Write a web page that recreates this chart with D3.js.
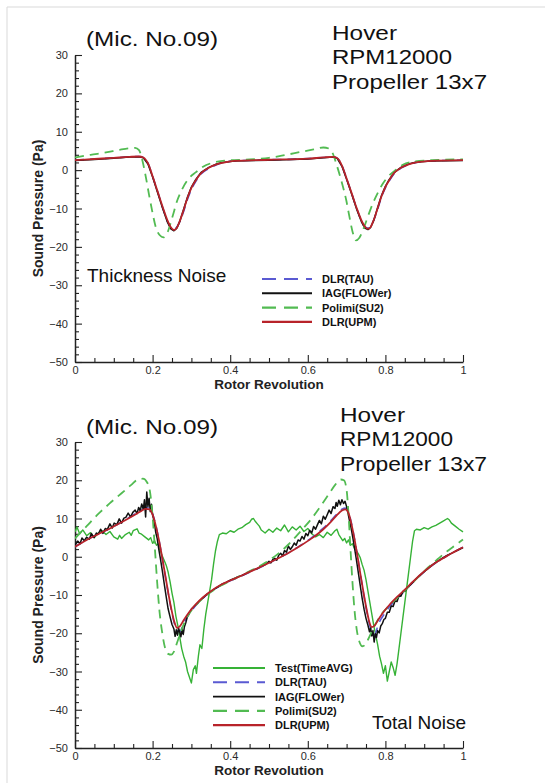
<!DOCTYPE html>
<html>
<head>
<meta charset="utf-8">
<script src="https://cdn.jsdelivr.net/npm/d3@7"></script>
<style>
  body { margin: 0; background: #fff; }
  svg { display: block; }
  text { font-family: "Liberation Sans", Arial, Helvetica, sans-serif; }
</style>
</head>
<body>
<svg id="fig" width="545" height="783"></svg>
<script>
// ---- axis ticks and labels ----
const xMajorTicks = [0, 0.2, 0.4, 0.6, 0.8, 1];
const xTickLabels = ["0", "0.2", "0.4", "0.6", "0.8", "1"];
const xMinorTicks = [0.05, 0.1, 0.15, 0.25, 0.3, 0.35, 0.45, 0.5, 0.55, 0.65, 0.7, 0.75, 0.85, 0.9, 0.95];
const yMajorTicks = [30, 20, 10, 0, -10, -20, -30, -40, -50];
const yMinorTicks = [28, 26, 24, 22, 18, 16, 14, 12, 8, 6, 4, 2, -2, -4, -6, -8, -12, -14, -16, -18,
  -22, -24, -26, -28, -32, -34, -36, -38, -42, -44, -46, -48];
const xTitle = "Rotor Revolution";
const yTitle = "Sound Pressure (Pa)";
const headerLeft = "(Mic. No.09)";
const headerRight = ["Hover", "RPM12000", "Propeller 13x7"];

// ---- thickness noise (upper panel): [revolution, pressure Pa] ----
const thickTAU = [[0,2.6],[0.05,2.9],[0.1,3.2],[0.14,3.45],[0.165,3.55],[0.176,3.3],[0.188,1.8],[0.2,-1.6],[0.213,-5.6],[0.226,-9.8],[0.238,-13.3],[0.247,-15.0],[0.255,-15.4],[0.262,-14.9],[0.27,-13.4],[0.28,-10.8],[0.29,-7.6],[0.3,-5.0],[0.311,-3.0],[0.325,-1.0],[0.345,0.4],[0.365,1.4],[0.38,1.9],[0.41,2.4],[0.5,2.7],[0.6,3.0],[0.64,3.3],[0.665,3.45],[0.676,3.1],[0.688,1.2],[0.7,-2.2],[0.713,-6.0],[0.726,-10.0],[0.738,-13.2],[0.747,-14.8],[0.755,-15.1],[0.762,-14.6],[0.77,-13.0],[0.78,-10.2],[0.79,-7.0],[0.8,-4.6],[0.81,-2.8],[0.822,-1.0],[0.84,0.5],[0.86,1.5],[0.88,2.0],[0.92,2.4],[1,2.6]];
const thickIAG = [[0,2.5],[0.05,2.8],[0.1,3.1],[0.14,3.4],[0.165,3.5],[0.176,3.2],[0.188,1.6],[0.2,-1.8],[0.213,-5.9],[0.226,-10.0],[0.238,-13.5],[0.247,-15.3],[0.255,-15.8],[0.262,-15.2],[0.27,-13.4],[0.28,-10.2],[0.29,-7.0],[0.3,-4.4],[0.311,-2.5],[0.325,-0.6],[0.345,0.7],[0.365,1.6],[0.38,2.0],[0.41,2.4],[0.5,2.6],[0.6,2.9],[0.64,3.2],[0.665,3.4],[0.676,3.0],[0.688,1.0],[0.7,-2.4],[0.713,-6.2],[0.726,-10.2],[0.738,-13.4],[0.747,-15.1],[0.755,-15.5],[0.762,-14.9],[0.77,-13.1],[0.78,-9.8],[0.79,-6.6],[0.8,-4.2],[0.81,-2.4],[0.822,-0.7],[0.84,0.7],[0.86,1.6],[0.88,2.1],[0.92,2.4],[1,2.5]];
const thickSU2 = [[0,3.3],[0.04,4.0],[0.08,4.6],[0.115,5.3],[0.14,5.7],[0.155,5.8],[0.165,5.2],[0.174,2.4],[0.182,-1.5],[0.191,-6.5],[0.2,-11.2],[0.208,-14.8],[0.218,-16.9],[0.228,-17.5],[0.238,-16.3],[0.251,-12.2],[0.264,-7.8],[0.277,-4.8],[0.295,-2.0],[0.311,-0.6],[0.33,0.9],[0.354,1.9],[0.38,2.4],[0.43,2.7],[0.5,3.2],[0.54,3.9],[0.58,4.7],[0.615,5.4],[0.64,5.9],[0.655,5.6],[0.665,4.2],[0.673,1.8],[0.686,-2.6],[0.699,-7.8],[0.707,-12.0],[0.716,-16.3],[0.724,-18.3],[0.733,-17.6],[0.746,-14.6],[0.758,-11.2],[0.768,-8.6],[0.781,-5.8],[0.794,-3.4],[0.81,-1.4],[0.825,-0.1],[0.845,1.4],[0.87,2.2],[0.92,2.6],[1,2.8]];
const thickUPM = [[0,2.6],[0.05,2.9],[0.1,3.2],[0.14,3.45],[0.165,3.55],[0.176,3.3],[0.188,1.8],[0.2,-1.6],[0.213,-5.6],[0.226,-9.6],[0.238,-13.0],[0.247,-14.9],[0.255,-15.6],[0.262,-15.1],[0.27,-13.3],[0.28,-10.4],[0.29,-7.2],[0.3,-4.6],[0.311,-2.7],[0.325,-0.8],[0.345,0.6],[0.365,1.5],[0.38,1.9],[0.41,2.4],[0.5,2.7],[0.6,3.0],[0.64,3.3],[0.665,3.45],[0.676,3.1],[0.688,1.2],[0.7,-2.2],[0.713,-6.0],[0.726,-9.9],[0.738,-13.0],[0.747,-14.7],[0.755,-15.3],[0.762,-14.8],[0.77,-13.0],[0.78,-9.9],[0.79,-6.8],[0.8,-4.4],[0.81,-2.6],[0.822,-0.8],[0.84,0.6],[0.86,1.5],[0.88,2.0],[0.92,2.4],[1,2.6]];

// ---- total noise (lower panel): [revolution, pressure Pa] ----
const totalTest = [[0,6.5],[0.005,7.8],[0.012,6.0],[0.02,7.0],[0.03,5.5],[0.04,6.3],[0.05,5.0],[0.06,6.2],[0.07,6.8],[0.08,5.8],[0.09,6.6],[0.1,5.2],[0.11,4.6],[0.115,5.6],[0.12,4.8],[0.13,5.8],[0.14,6.4],[0.145,5.6],[0.15,6.8],[0.16,7.3],[0.165,6.2],[0.17,6.0],[0.18,5.2],[0.19,4.4],[0.195,5.0],[0.2,3.5],[0.205,4.2],[0.21,3.0],[0.215,3.4],[0.22,1.5],[0.225,0.2],[0.23,-1.0],[0.235,-2.2],[0.24,-4.0],[0.245,-6.5],[0.25,-9.5],[0.255,-12.0],[0.26,-15.5],[0.265,-18.0],[0.27,-21.0],[0.275,-24.0],[0.28,-26.0],[0.285,-27.5],[0.29,-30.0],[0.295,-31.5],[0.3,-33.0],[0.305,-29.5],[0.31,-28.5],[0.313,-30.5],[0.318,-26.0],[0.322,-23.0],[0.327,-24.0],[0.332,-19.0],[0.337,-15.0],[0.342,-12.0],[0.347,-9.0],[0.352,-6.0],[0.357,-2.0],[0.362,1.5],[0.367,4.0],[0.372,5.8],[0.38,6.2],[0.39,6.0],[0.4,6.8],[0.41,6.4],[0.42,7.2],[0.43,7.6],[0.44,8.4],[0.45,9.0],[0.455,9.8],[0.46,10.0],[0.465,9.2],[0.47,8.6],[0.475,8.0],[0.48,7.0],[0.49,6.2],[0.5,7.2],[0.51,6.4],[0.52,7.5],[0.53,6.8],[0.54,8.3],[0.55,6.5],[0.56,7.8],[0.57,7.0],[0.58,8.0],[0.59,6.6],[0.6,7.4],[0.61,6.0],[0.62,5.2],[0.63,5.8],[0.64,5.0],[0.65,6.4],[0.66,5.6],[0.67,6.8],[0.675,7.2],[0.68,5.8],[0.69,4.2],[0.695,4.8],[0.7,3.6],[0.705,4.4],[0.71,3.0],[0.715,3.4],[0.72,2.2],[0.725,1.6],[0.73,0.8],[0.735,-0.2],[0.74,-2.0],[0.745,-3.5],[0.75,-6.0],[0.755,-9.0],[0.76,-12.0],[0.765,-15.0],[0.77,-18.0],[0.775,-20.5],[0.78,-23.0],[0.785,-26.0],[0.79,-28.0],[0.795,-30.5],[0.8,-28.5],[0.805,-32.5],[0.81,-30.0],[0.815,-27.5],[0.82,-29.0],[0.825,-31.0],[0.83,-28.0],[0.835,-24.0],[0.84,-20.0],[0.845,-16.0],[0.85,-12.0],[0.855,-8.0],[0.86,-4.0],[0.865,0.0],[0.87,4.0],[0.875,6.8],[0.88,7.2],[0.89,7.0],[0.9,7.6],[0.91,7.2],[0.92,7.8],[0.93,8.2],[0.94,8.8],[0.95,9.4],[0.96,10.0],[0.965,9.6],[0.97,8.8],[0.98,8.0],[0.99,7.2],[1,6.5]];
const totalTAU = [[0,2.6],[0.03,4.4],[0.06,5.9],[0.09,7.4],[0.12,9.1],[0.15,10.9],[0.17,12.1],[0.182,12.8],[0.192,12.7],[0.2,11.2],[0.208,8.4],[0.216,4.6],[0.224,0.2],[0.232,-4.6],[0.24,-9.4],[0.248,-13.8],[0.256,-17.4],[0.263,-19.3],[0.27,-19.6],[0.28,-17.4],[0.295,-14.9],[0.31,-12.9],[0.33,-10.8],[0.35,-9.2],[0.375,-7.5],[0.4,-6.3],[0.43,-5.0],[0.46,-3.6],[0.49,-2.2],[0.52,-0.6],[0.55,1.0],[0.58,2.9],[0.61,5.0],[0.64,7.5],[0.66,9.5],[0.675,11.2],[0.688,12.4],[0.697,12.7],[0.705,11.6],[0.712,9.0],[0.72,4.9],[0.728,0.2],[0.736,-4.9],[0.744,-9.8],[0.752,-14.3],[0.759,-17.7],[0.765,-19.6],[0.772,-20.4],[0.782,-17.6],[0.797,-15.0],[0.812,-12.9],[0.83,-10.9],[0.85,-8.9],[0.87,-6.8],[0.89,-4.8],[0.91,-3.1],[0.935,-1.2],[0.96,0.3],[0.98,1.4],[1,2.5]];
const totalIAG = [[0,3.0],[0.007,4.1],[0.013,3.4],[0.018,4.9],[0.024,4.2],[0.03,5.1],[0.037,4.6],[0.042,6.1],[0.049,5.0],[0.055,6.2],[0.06,5.9],[0.066,7.2],[0.072,6.1],[0.078,7.4],[0.083,7.1],[0.09,8.6],[0.096,7.5],[0.101,8.8],[0.108,8.4],[0.114,9.9],[0.12,8.8],[0.126,10.1],[0.131,10.3],[0.137,11.4],[0.143,10.4],[0.149,11.6],[0.155,12.2],[0.16,11.3],[0.164,12.9],[0.168,12.0],[0.172,13.8],[0.176,12.4],[0.179,14.9],[0.182,10.4],[0.185,16.9],[0.188,13.1],[0.191,15.3],[0.194,11.8],[0.197,13.7],[0.2,10.9],[0.204,9.3],[0.208,6.4],[0.212,4.7],[0.216,1.9],[0.22,-0.4],[0.225,-3.6],[0.23,-7.1],[0.235,-10.4],[0.24,-13.6],[0.245,-15.7],[0.25,-17.7],[0.255,-18.9],[0.258,-20.8],[0.261,-19.1],[0.264,-20.5],[0.267,-18.7],[0.27,-19.7],[0.273,-20.9],[0.276,-18.9],[0.279,-20.3],[0.282,-18.3],[0.286,-17.1],[0.29,-15.5],[0.295,-14.7],[0.3,-13.7],[0.31,-12.7],[0.32,-11.7],[0.33,-10.8],[0.34,-9.8],[0.35,-9.1],[0.36,-8.4],[0.37,-7.8],[0.38,-7.1],[0.39,-6.7],[0.4,-6.1],[0.41,-5.7],[0.42,-5.2],[0.43,-4.9],[0.44,-4.4],[0.45,-3.9],[0.46,-3.4],[0.47,-3.1],[0.48,-2.4],[0.49,-2.1],[0.5,-1.2],[0.505,-1.6],[0.51,-0.7],[0.515,-0.4],[0.52,-0.9],[0.525,0.4],[0.53,0.9],[0.535,0.2],[0.54,1.6],[0.545,1.2],[0.55,2.8],[0.555,1.9],[0.56,2.6],[0.565,3.6],[0.57,3.0],[0.575,4.4],[0.58,4.1],[0.585,5.3],[0.59,4.6],[0.595,6.1],[0.6,5.5],[0.605,6.9],[0.61,6.2],[0.615,7.9],[0.62,7.2],[0.625,8.4],[0.63,9.5],[0.635,8.6],[0.64,10.6],[0.645,9.8],[0.65,11.0],[0.655,12.2],[0.66,11.3],[0.665,13.1],[0.67,12.6],[0.673,14.2],[0.676,13.2],[0.68,14.8],[0.684,13.6],[0.688,14.9],[0.692,13.9],[0.696,14.5],[0.7,13.1],[0.704,11.2],[0.708,9.1],[0.712,7.3],[0.716,5.0],[0.72,2.6],[0.725,-0.6],[0.73,-4.0],[0.735,-7.4],[0.74,-10.8],[0.745,-13.7],[0.75,-16.1],[0.755,-17.9],[0.759,-19.6],[0.762,-18.6],[0.765,-20.7],[0.768,-19.3],[0.771,-22.3],[0.774,-20.1],[0.777,-21.1],[0.78,-19.3],[0.784,-19.9],[0.788,-18.1],[0.792,-17.5],[0.796,-16.4],[0.8,-16.1],[0.805,-14.5],[0.81,-14.5],[0.815,-12.9],[0.82,-13.0],[0.825,-11.5],[0.83,-11.7],[0.835,-10.2],[0.84,-10.3],[0.845,-9.1],[0.85,-9.0],[0.86,-7.8],[0.87,-6.8],[0.88,-5.7],[0.89,-4.8],[0.9,-3.9],[0.91,-3.1],[0.92,-2.2],[0.93,-1.5],[0.94,-0.8],[0.95,-0.2],[0.96,0.4],[0.97,0.9],[0.98,1.4],[0.99,1.9],[1,2.4]];
const totalSU2 = [[0,4.8],[0.03,8.0],[0.06,11.2],[0.09,14.0],[0.12,16.6],[0.145,18.8],[0.162,20.2],[0.175,20.4],[0.186,19.4],[0.194,16.5],[0.2,10.5],[0.206,2.0],[0.212,-7.0],[0.218,-14.5],[0.225,-20.0],[0.232,-23.8],[0.24,-25.4],[0.248,-25.6],[0.255,-24.8],[0.263,-22.5],[0.272,-19.8],[0.283,-17.0],[0.295,-14.8],[0.31,-12.8],[0.33,-10.8],[0.35,-9.2],[0.375,-7.6],[0.4,-6.3],[0.43,-4.8],[0.46,-3.3],[0.49,-1.6],[0.52,0.5],[0.55,3.2],[0.58,6.5],[0.61,10.0],[0.635,13.5],[0.655,16.5],[0.672,19.0],[0.685,20.2],[0.693,20.0],[0.7,17.5],[0.705,11.0],[0.71,2.0],[0.715,-6.5],[0.72,-13.5],[0.726,-19.0],[0.733,-22.2],[0.741,-23.4],[0.748,-23.0],[0.756,-21.5],[0.765,-19.5],[0.775,-17.5],[0.79,-15.0],[0.81,-12.8],[0.83,-10.8],[0.85,-8.8],[0.87,-6.8],[0.89,-4.8],[0.91,-2.8],[0.935,-0.6],[0.96,1.5],[0.98,3.0],[1,4.5]];
const totalUPM = [[0,2.6],[0.03,4.4],[0.06,5.9],[0.09,7.4],[0.12,9.0],[0.15,10.7],[0.17,11.9],[0.182,12.5],[0.192,12.4],[0.2,11.0],[0.208,8.2],[0.216,4.5],[0.224,0.2],[0.232,-4.5],[0.24,-9.2],[0.248,-13.5],[0.256,-17.0],[0.263,-18.6],[0.27,-18.2],[0.28,-16.6],[0.295,-14.4],[0.31,-12.6],[0.33,-10.6],[0.35,-9.0],[0.375,-7.4],[0.4,-6.2],[0.43,-4.9],[0.46,-3.5],[0.49,-2.1],[0.52,-0.6],[0.55,1.0],[0.58,2.8],[0.61,4.8],[0.64,7.2],[0.66,9.2],[0.675,10.9],[0.688,12.1],[0.697,12.4],[0.705,11.4],[0.712,8.8],[0.72,4.8],[0.728,0.2],[0.736,-4.8],[0.744,-9.6],[0.752,-14.0],[0.759,-17.2],[0.765,-18.4],[0.772,-18.0],[0.782,-16.4],[0.797,-14.2],[0.812,-12.4],[0.83,-10.5],[0.85,-8.6],[0.87,-6.6],[0.89,-4.7],[0.91,-3.0],[0.935,-1.2],[0.96,0.3],[0.98,1.4],[1,2.5]];

// ---- series names and legend labels ----
const thickNames = ["DLR(TAU)", "IAG(FLOWer)", "Polimi(SU2)", "DLR(UPM)"];
const totalNames = ["Test(TimeAVG)", "DLR(TAU)", "IAG(FLOWer)", "Polimi(SU2)", "DLR(UPM)"];

// line styles per series name
const styles = {
  "Test(TimeAVG)": { stroke: "#36b236", width: 1.4, dash: null, curve: d3.curveLinear },
  "DLR(TAU)":      { stroke: "#5a5ad2", width: 1.6, dash: "9,6", curve: d3.curveMonotoneX },
  "IAG(FLOWer)":   { stroke: "#111111", width: 1.5, dash: null, curve: d3.curveLinear },
  "Polimi(SU2)":   { stroke: "#52bb52", width: 1.8, dash: "9,6", curve: d3.curveMonotoneX },
  "DLR(UPM)":      { stroke: "#b8232a", width: 1.8, dash: null, curve: d3.curveMonotoneX }
};

const svg = d3.select("#fig");

// light page frame (top and left edges)
svg.append("line").attr("x1", 7).attr("y1", 7).attr("x2", 545).attr("y2", 7)
  .attr("stroke", "#d9d9d9").attr("stroke-width", 1);
svg.append("line").attr("x1", 7).attr("y1", 7).attr("x2", 7).attr("y2", 783)
  .attr("stroke", "#d9d9d9").attr("stroke-width", 1);

function drawPanel(opt) {
  const g = svg.append("g");
  const x = d3.scaleLinear().domain([0, 1]).range([75, 463]);
  const y = d3.scaleLinear().domain([-50, 30]).range([opt.bottom, opt.top]);

  // minor ticks
  g.append("g").attr("transform", `translate(0,${opt.bottom})`)
    .call(d3.axisBottom(x).tickValues(xMinorTicks).tickSize(-4).tickSizeOuter(0).tickFormat(""))
    .call(s => s.select(".domain").remove());
  g.append("g").attr("transform", "translate(75,0)")
    .call(d3.axisLeft(y).tickValues(yMinorTicks).tickSize(-4).tickSizeOuter(0).tickFormat(""))
    .call(s => s.select(".domain").remove());

  // major ticks and labels
  const xa = g.append("g").attr("transform", `translate(0,${opt.bottom})`)
    .call(d3.axisBottom(x).tickValues(xMajorTicks).tickSize(-7).tickSizeOuter(0).tickPadding(4)
      .tickFormat((d, i) => xTickLabels[i]));
  const ya = g.append("g").attr("transform", "translate(75,0)")
    .call(d3.axisLeft(y).tickValues(yMajorTicks).tickSize(-7).tickSizeOuter(0).tickPadding(7)
      .tickFormat(d3.format("d")));
  [xa, ya].forEach(a => {
    a.selectAll("text").attr("font-size", 11).attr("fill", "#2a2a2a")
      .attr("font-family", "'Liberation Sans', Arial, sans-serif");
  });
  g.selectAll(".tick line").attr("stroke", "#222").attr("stroke-width", 1.1);
  g.selectAll(".domain").attr("stroke", "#222").attr("stroke-width", 1.5);

  // curves
  const clip = "clip" + opt.id;
  g.append("clipPath").attr("id", clip).append("rect")
    .attr("x", 75).attr("y", opt.top - 2).attr("width", 390).attr("height", opt.bottom - opt.top + 2);
  const curves = g.append("g").attr("clip-path", `url(#${clip})`);
  opt.names.forEach((name, i) => {
    const st = styles[name];
    const line = d3.line().x(d => x(d[0])).y(d => y(d[1])).curve(st.curve);
    curves.append("path").datum(opt.series[i])
      .attr("d", line).attr("fill", "none")
      .attr("stroke", st.stroke).attr("stroke-width", st.width)
      .attr("stroke-dasharray", st.dash).attr("stroke-linejoin", "round");
  });

  // axis titles
  g.append("text").attr("x", 269).attr("y", opt.bottom + 27)
    .attr("text-anchor", "middle").attr("font-size", 13.5).attr("font-weight", "bold")
    .attr("fill", "#222").text(xTitle);
  g.append("text").attr("transform", `translate(38,${(opt.top + opt.bottom) / 2}) rotate(-90)`)
    .attr("text-anchor", "middle").attr("dy", "0.36em").attr("font-size", 14).attr("font-weight", "bold")
    .attr("fill", "#222").text(yTitle);

  // headers
  g.append("text").attr("x", 86).attr("y", opt.micBase)
    .attr("font-size", 21).attr("fill", "#111")
    .attr("textLength", 132).attr("lengthAdjust", "spacingAndGlyphs").text(headerLeft);
  headerRight.forEach((t, i) => {
    g.append("text").attr("x", opt.hdrX).attr("y", opt.hdrBase + i * 24.6)
      .attr("font-size", 20).attr("fill", "#111")
      .attr("textLength", opt.hdrW[i]).attr("lengthAdjust", "spacingAndGlyphs").text(t);
  });

  // panel label
  g.append("text").attr("x", opt.tagX).attr("y", opt.tagY)
    .attr("font-size", opt.tagSize).attr("fill", "#111").text(opt.tag);

  // legend
  const lg = g.append("g");
  opt.names.forEach((name, i) => {
    const st = styles[name];
    const yy = opt.legY + i * opt.legStep;
    lg.append("line").attr("x1", opt.legX).attr("x2", opt.legX + opt.legLen)
      .attr("y1", yy).attr("y2", yy)
      .attr("stroke", st.stroke).attr("stroke-width", st.width + 0.4)
      .attr("stroke-dasharray", st.dash ? "14,8" : null);
    lg.append("text").attr("x", opt.legX + opt.legLen + 10).attr("y", yy).attr("dy", "0.36em")
      .attr("font-size", 11).attr("font-weight", "bold").attr("fill", "#111").text(name);
  });
}

drawPanel({
  id: "thick", top: 55, bottom: 362,
  names: thickNames, series: [thickTAU, thickIAG, thickSU2, thickUPM],
  micBase: 46, hdrX: 332, hdrBase: 39.5, hdrW: [65, 120, 155],
  tag: "Thickness Noise", tagX: 87, tagY: 282, tagSize: 19,
  legX: 262, legLen: 50, legY: 279, legStep: 14.3
});

drawPanel({
  id: "total", top: 442, bottom: 748,
  names: totalNames, series: [totalTest, totalTAU, totalIAG, totalSU2, totalUPM],
  micBase: 434, hdrX: 340, hdrBase: 421.7, hdrW: [65, 113, 147],
  tag: "Total Noise", tagX: 372, tagY: 729, tagSize: 19,
  legX: 213, legLen: 52, legY: 668, legStep: 14.3
});
</script>
</body>
</html>
